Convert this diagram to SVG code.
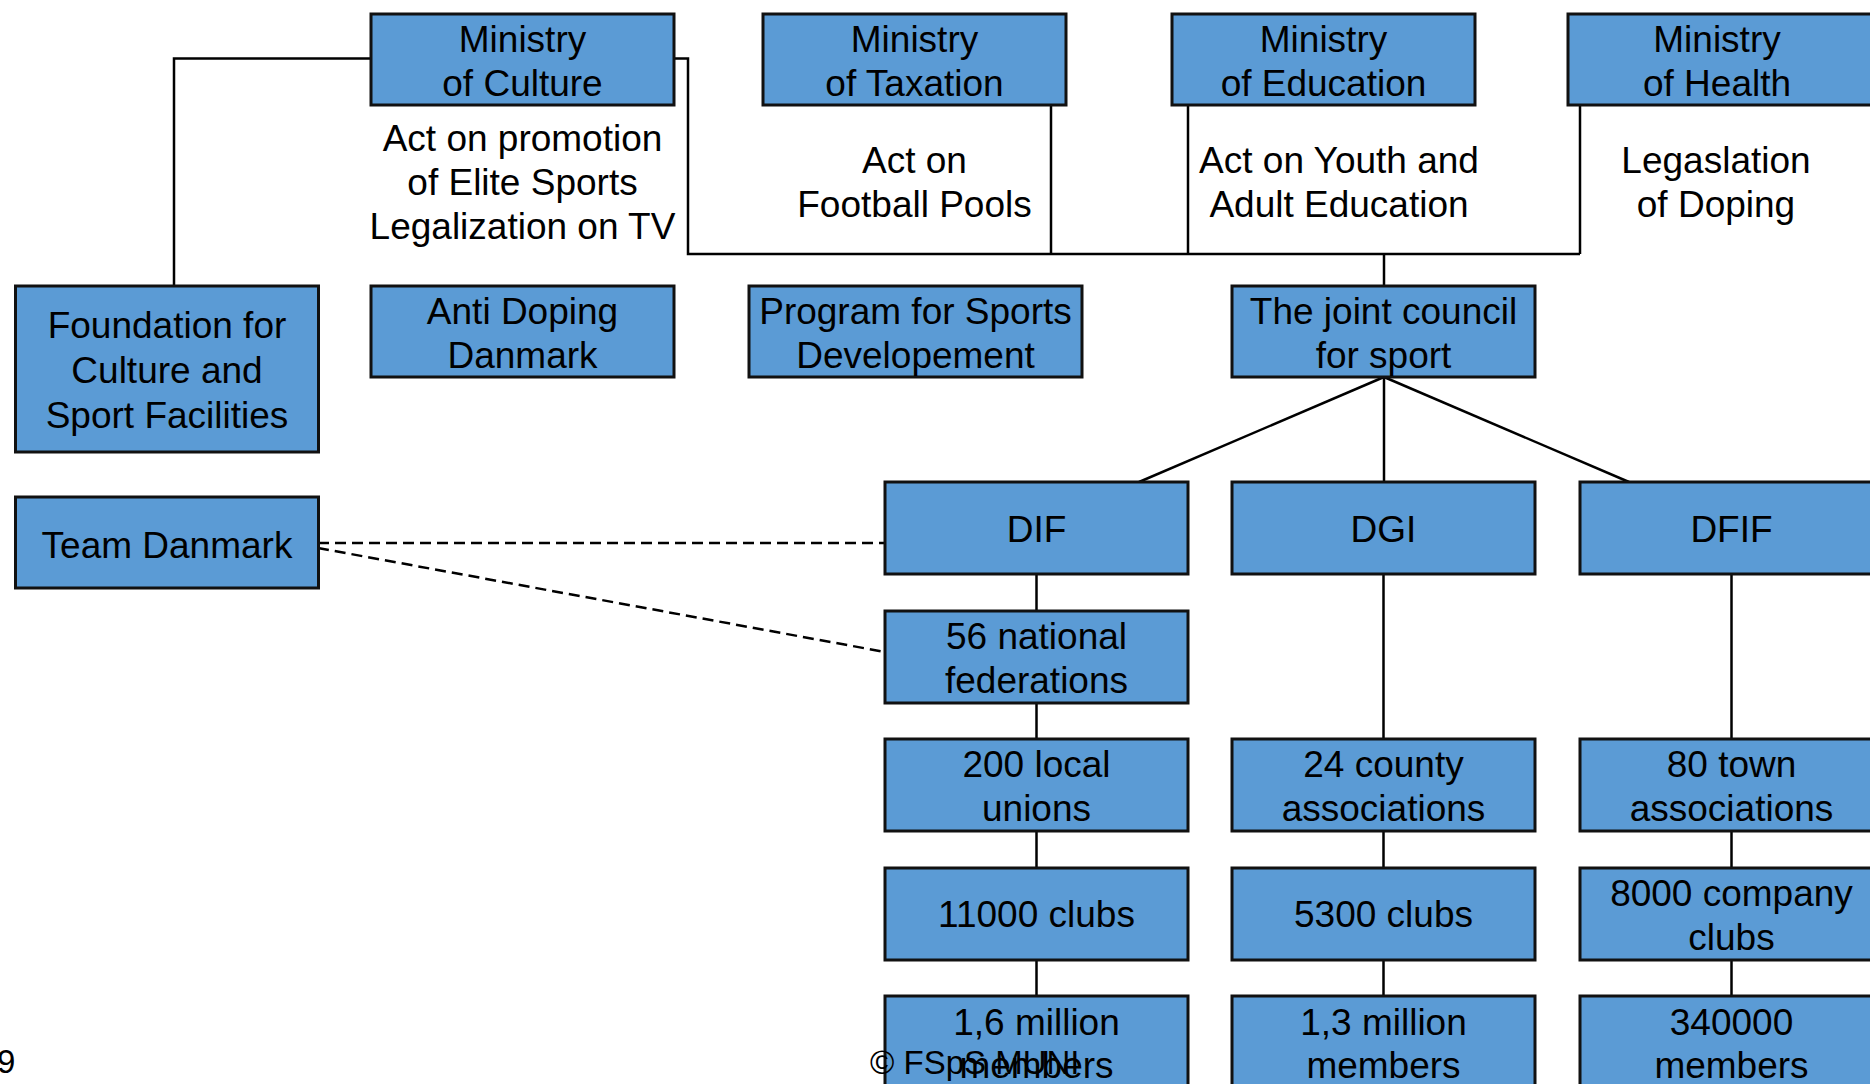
<svg xmlns="http://www.w3.org/2000/svg" width="1870" height="1084" viewBox="0 0 1870 1084">
<style>
.box{fill:#5B9BD5;stroke:#111;stroke-width:3}
.t{font-family:"Liberation Sans",Arial,sans-serif;font-size:37px;fill:#000;text-anchor:middle}
.f{font-family:"Liberation Sans",Arial,sans-serif;font-size:33px;fill:#000}
.ln{fill:none;stroke:#000;stroke-width:2.5}
.dash{fill:none;stroke:#000;stroke-width:2.5;stroke-dasharray:11 6}
</style>
<rect width="1870" height="1084" fill="#fff"/>
<g id="connectors">
<polyline class="ln" points="371,58.5 174,58.5 174,286"/>
<polyline class="ln" points="674,58.5 688,58.5 688,254 1580,254"/>
<line class="ln" x1="1051" y1="105" x2="1051" y2="254"/>
<line class="ln" x1="1188" y1="105" x2="1188" y2="254"/>
<line class="ln" x1="1580" y1="105" x2="1580" y2="254"/>
<line class="ln" x1="1384" y1="254" x2="1384" y2="286"/>
<line class="ln" x1="1384" y1="377" x2="1139" y2="482"/>
<line class="ln" x1="1384" y1="377" x2="1384" y2="482"/>
<line class="ln" x1="1384" y1="377" x2="1629" y2="482"/>
<line class="ln" x1="1036.5" y1="574" x2="1036.5" y2="611"/>
<line class="ln" x1="1036.5" y1="703" x2="1036.5" y2="739"/>
<line class="ln" x1="1036.5" y1="831" x2="1036.5" y2="868"/>
<line class="ln" x1="1036.5" y1="960" x2="1036.5" y2="996"/>
<line class="ln" x1="1383.5" y1="574" x2="1383.5" y2="739"/>
<line class="ln" x1="1383.5" y1="831" x2="1383.5" y2="868"/>
<line class="ln" x1="1383.5" y1="960" x2="1383.5" y2="996"/>
<line class="ln" x1="1731.5" y1="574" x2="1731.5" y2="739"/>
<line class="ln" x1="1731.5" y1="831" x2="1731.5" y2="868"/>
<line class="ln" x1="1731.5" y1="960" x2="1731.5" y2="996"/>
<line class="dash" x1="318" y1="543" x2="885" y2="543"/>
<line class="dash" x1="318" y1="548" x2="885" y2="652"/>
</g>
<g id="min-culture"><rect class="box" x="371" y="14" width="303" height="91"/><text class="t" x="522.5" y="52">Ministry</text><text class="t" x="522.5" y="96">of Culture</text></g>
<g id="min-taxation"><rect class="box" x="763" y="14" width="303" height="91"/><text class="t" x="914.5" y="52">Ministry</text><text class="t" x="914.5" y="96">of Taxation</text></g>
<g id="min-education"><rect class="box" x="1172" y="14" width="303" height="91"/><text class="t" x="1323.5" y="52">Ministry</text><text class="t" x="1323.5" y="96">of Education</text></g>
<g id="min-health"><rect class="box" x="1568" y="14" width="310" height="91"/><text class="t" x="1717" y="52">Ministry</text><text class="t" x="1717" y="96">of Health</text></g>
<g id="label-culture"><text class="t" x="522.5" y="151">Act on promotion</text><text class="t" x="522.5" y="195">of Elite Sports</text><text class="t" x="522.5" y="239">Legalization on TV</text></g>
<g id="label-taxation"><text class="t" x="914.5" y="173">Act on</text><text class="t" x="914.5" y="217">Football Pools</text></g>
<g id="label-education"><text class="t" x="1339" y="173">Act on Youth and</text><text class="t" x="1339" y="217">Adult Education</text></g>
<g id="label-health"><text class="t" x="1716" y="173">Legaslation</text><text class="t" x="1716" y="217">of Doping</text></g>
<g id="foundation"><rect class="box" x="15.5" y="286" width="303" height="166"/><text class="t" x="167" y="338">Foundation for</text><text class="t" x="167" y="383">Culture and</text><text class="t" x="167" y="428">Sport Facilities</text></g>
<g id="anti-doping"><rect class="box" x="371" y="286" width="303" height="91"/><text class="t" x="522.5" y="324">Anti Doping</text><text class="t" x="522.5" y="368">Danmark</text></g>
<g id="program"><rect class="box" x="749" y="286" width="333" height="91"/><text class="t" x="915.5" y="324">Program for Sports</text><text class="t" x="915.5" y="368">Developement</text></g>
<g id="joint-council"><rect class="box" x="1232" y="286" width="303" height="91"/><text class="t" x="1383.5" y="324">The joint council</text><text class="t" x="1383.5" y="368">for sport</text></g>
<g id="team-danmark"><rect class="box" x="15.5" y="497" width="303" height="91"/><text class="t" x="167" y="558">Team Danmark</text></g>
<g id="dif"><rect class="box" x="885" y="482" width="303" height="92"/><text class="t" x="1036.5" y="542">DIF</text></g>
<g id="dgi"><rect class="box" x="1232" y="482" width="303" height="92"/><text class="t" x="1383.5" y="542">DGI</text></g>
<g id="dfif"><rect class="box" x="1580" y="482" width="303" height="92"/><text class="t" x="1731.5" y="542">DFIF</text></g>
<g id="dif-fed"><rect class="box" x="885" y="611" width="303" height="92"/><text class="t" x="1036.5" y="649">56 national</text><text class="t" x="1036.5" y="693">federations</text></g>
<g id="dif-unions"><rect class="box" x="885" y="739" width="303" height="92"/><text class="t" x="1036.5" y="777">200 local</text><text class="t" x="1036.5" y="821">unions</text></g>
<g id="dgi-county"><rect class="box" x="1232" y="739" width="303" height="92"/><text class="t" x="1383.5" y="777">24 county</text><text class="t" x="1383.5" y="821">associations</text></g>
<g id="dfif-town"><rect class="box" x="1580" y="739" width="303" height="92"/><text class="t" x="1731.5" y="777">80 town</text><text class="t" x="1731.5" y="821">associations</text></g>
<g id="dif-clubs"><rect class="box" x="885" y="868" width="303" height="92"/><text class="t" x="1036.5" y="927">11000 clubs</text></g>
<g id="dgi-clubs"><rect class="box" x="1232" y="868" width="303" height="92"/><text class="t" x="1383.5" y="927">5300 clubs</text></g>
<g id="dfif-clubs"><rect class="box" x="1580" y="868" width="303" height="92"/><text class="t" x="1731.5" y="906">8000 company</text><text class="t" x="1731.5" y="950">clubs</text></g>
<g id="dif-members"><rect class="box" x="885" y="996" width="303" height="100"/><text class="t" x="1036.5" y="1035">1,6 million</text><text class="t" x="1036.5" y="1078">members</text></g>
<g id="dgi-members"><rect class="box" x="1232" y="996" width="303" height="100"/><text class="t" x="1383.5" y="1035">1,3 million</text><text class="t" x="1383.5" y="1078">members</text></g>
<g id="dfif-members"><rect class="box" x="1580" y="996" width="303" height="100"/><text class="t" x="1731.5" y="1035">340000</text><text class="t" x="1731.5" y="1078">members</text></g>
<g id="footer"><text class="f" x="-3" y="1073">9</text><text class="f" x="870" y="1074">© FSpS MUNI</text></g>
</svg>
